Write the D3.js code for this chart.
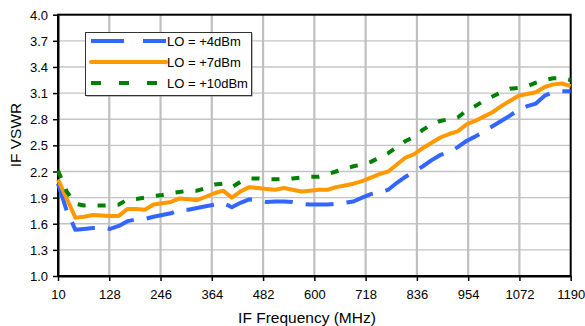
<!DOCTYPE html>
<html>
<head>
<meta charset="utf-8">
<script src="https://cdn.jsdelivr.net/npm/d3@7"></script>
<style>
  html, body { margin: 0; padding: 0; background: #fff; }
  svg { display: block; font-family: "Liberation Sans", Arial, sans-serif; }
</style>
</head>
<body>
<svg id="chart" width="585" height="326"></svg>
<script>
// IF frequency sweep (MHz)
const freqs = [10, 30, 50, 70, 90, 110, 130, 150, 170, 190,
  210, 230, 250, 270, 290, 310, 330, 350, 370, 390,
  410, 430, 450, 470, 490, 510, 530, 550, 570, 590,
  610, 630, 650, 670, 690, 710, 730, 750, 770, 790,
  810, 830, 850, 870, 890, 910, 930, 950, 970, 990,
  1010, 1030, 1050, 1070, 1090, 1110, 1130, 1150, 1170, 1190];

// IF VSWR for each LO drive level
const vswrLo4 = [2.06, 1.75, 1.53, 1.54, 1.55, 1.56, 1.54, 1.575, 1.63, 1.65,
  1.655, 1.68, 1.70, 1.72, 1.76, 1.76, 1.78, 1.80, 1.82, 1.84,
  1.79, 1.84, 1.88, 1.87, 1.85, 1.855, 1.855, 1.85, 1.83, 1.82,
  1.82, 1.82, 1.83, 1.84, 1.855, 1.90, 1.94, 1.96, 1.99, 2.07,
  2.14, 2.20, 2.26, 2.33, 2.39, 2.42, 2.48, 2.55, 2.60, 2.66,
  2.72, 2.78, 2.84, 2.91, 2.95, 2.98, 3.07, 3.11, 3.12, 3.12];

const vswrLo7 = [2.11, 1.89, 1.67, 1.68, 1.70, 1.695, 1.69, 1.69, 1.77, 1.77,
  1.76, 1.82, 1.835, 1.85, 1.89, 1.88, 1.87, 1.91, 1.95, 1.98,
  1.90, 1.97, 2.02, 2.01, 2.00, 1.99, 2.01, 1.99, 1.97, 1.98,
  1.99, 1.99, 2.02, 2.04, 2.06, 2.09, 2.13, 2.17, 2.20, 2.28,
  2.36, 2.40, 2.47, 2.53, 2.59, 2.63, 2.66, 2.74, 2.78, 2.83,
  2.88, 2.95, 3.01, 3.07, 3.09, 3.11, 3.17, 3.20, 3.21, 3.18];

const vswrLo10 = [2.21, 1.97, 1.83, 1.81, 1.81, 1.81, 1.81, 1.82, 1.88, 1.885,
  1.90, 1.92, 1.93, 1.95, 1.965, 1.98, 1.98, 2.01, 2.05, 2.06,
  2.02, 2.08, 2.12, 2.12, 2.11, 2.11, 2.11, 2.12, 2.13, 2.14,
  2.14, 2.17, 2.20, 2.23, 2.26, 2.28, 2.31, 2.36, 2.41, 2.48,
  2.55, 2.60, 2.68, 2.74, 2.78, 2.80, 2.82, 2.90, 2.95, 3.01,
  3.06, 3.11, 3.15, 3.16, 3.18, 3.22, 3.25, 3.27, 3.27, 3.25];

const seriesNames = ["LO = +4dBm", "LO = +7dBm", "LO = +10dBm"];
const xTicks = [10, 128, 246, 364, 482, 600, 718, 836, 954, 1072, 1190];
const yTicks = [1.0, 1.3, 1.6, 1.9, 2.2, 2.5, 2.8, 3.1, 3.4, 3.7, 4.0];

const series = [
  { name: seriesNames[0], values: vswrLo4, color: "#3366FF", dash: "28,13", legendDash: "33,19" },
  { name: seriesNames[1], values: vswrLo7, color: "#FF9900", dash: null, legendDash: null },
  { name: seriesNames[2], values: vswrLo10, color: "#008000", dash: "8,12", legendDash: "10,18" }
];

const svg = d3.select("#chart");
const plotLeft = 58, plotRight = 570.7, plotTop = 14.7, plotBottom = 276;

const x = d3.scaleLinear().domain([10, 1190]).range([plotLeft, plotRight]);
const y = d3.scaleLinear().domain([1.0, 4.0]).range([plotBottom, plotTop]);

// gridlines
const grid = svg.append("g");
grid.selectAll("line.h").data(yTicks.slice(1, -1)).join("line")
  .attr("class", "h")
  .attr("x1", plotLeft).attr("x2", plotRight)
  .attr("y1", d => y(d)).attr("y2", d => y(d))
  .attr("stroke", "#C4C4C4").attr("stroke-width", 1.4);
grid.selectAll("line.v").data(xTicks.slice(1, -1)).join("line")
  .attr("class", "v")
  .attr("y1", plotTop).attr("y2", plotBottom)
  .attr("x1", d => x(d)).attr("x2", d => x(d))
  .attr("stroke", "#C0C0C0").attr("stroke-width", 2.2);

// plot frame
svg.append("rect")
  .attr("x", plotLeft).attr("y", plotTop)
  .attr("width", plotRight - plotLeft).attr("height", plotBottom - plotTop)
  .attr("fill", "none").attr("stroke", "#000").attr("stroke-width", 2);

// axes
const fmtY = d3.format(".1f");
const xAxis = svg.append("g").attr("transform", `translate(0,${plotBottom})`)
  .call(d3.axisBottom(x).tickValues(xTicks).tickSize(5).tickSizeOuter(0).tickFormat(d3.format("d")));
const yAxis = svg.append("g").attr("transform", `translate(${plotLeft},0)`)
  .call(d3.axisLeft(y).tickValues(yTicks).tickSize(5).tickSizeOuter(0).tickFormat(fmtY));

[xAxis, yAxis].forEach(a => {
  a.select(".domain").attr("stroke", "#000").attr("stroke-width", 2);
  a.selectAll(".tick line").attr("stroke", "#000").attr("stroke-width", 1.5);
  a.selectAll(".tick text")
    .attr("fill", "#000")
    .style("font-family", '"Liberation Sans", Arial, sans-serif')
    .style("font-size", "13px");
});
xAxis.selectAll(".tick text").attr("y", 23).attr("dy", 0);
yAxis.selectAll(".tick text").attr("x", -10).attr("dy", "0.35em");

// series lines
const line = d3.line()
  .x((d, i) => x(freqs[i]))
  .y(d => y(d));

series.forEach(s => {
  svg.append("path")
    .datum(s.values)
    .attr("d", line)
    .attr("fill", "none")
    .attr("stroke", s.color)
    .attr("stroke-width", 4)
    .attr("stroke-linejoin", "round")
    .attr("stroke-linecap", "butt")
    .attr("stroke-dasharray", s.dash);
});

// axis titles
svg.append("text")
  .attr("x", 307).attr("y", 322.5)
  .attr("text-anchor", "middle")
  .style("font-size", "15.5px")
  .text("IF Frequency (MHz)");

svg.append("text")
  .attr("transform", "translate(21,135) rotate(-90)")
  .attr("text-anchor", "middle")
  .style("font-size", "15.5px")
  .text("IF VSWR");

// legend
const lg = svg.append("g");
lg.append("rect")
  .attr("x", 86.5).attr("y", 33.5).attr("width", 166).attr("height", 63)
  .attr("fill", "#808080");
lg.append("rect")
  .attr("x", 85.5).attr("y", 32.5).attr("width", 166).attr("height", 63)
  .attr("fill", "#fff").attr("stroke", "#333").attr("stroke-width", 1);

const rowY = [41, 62, 83];
series.forEach((s, i) => {
  lg.append("line")
    .attr("x1", 91).attr("x2", 166)
    .attr("y1", rowY[i]).attr("y2", rowY[i])
    .attr("stroke", s.color).attr("stroke-width", 4)
    .attr("stroke-linecap", s.dash ? "butt" : "round")
    .attr("stroke-dasharray", s.legendDash);
  lg.append("text")
    .attr("x", 167).attr("y", rowY[i]).attr("dy", "0.35em")
    .style("font-size", "13px")
    .text(s.name);
});
</script>
</body>
</html>
